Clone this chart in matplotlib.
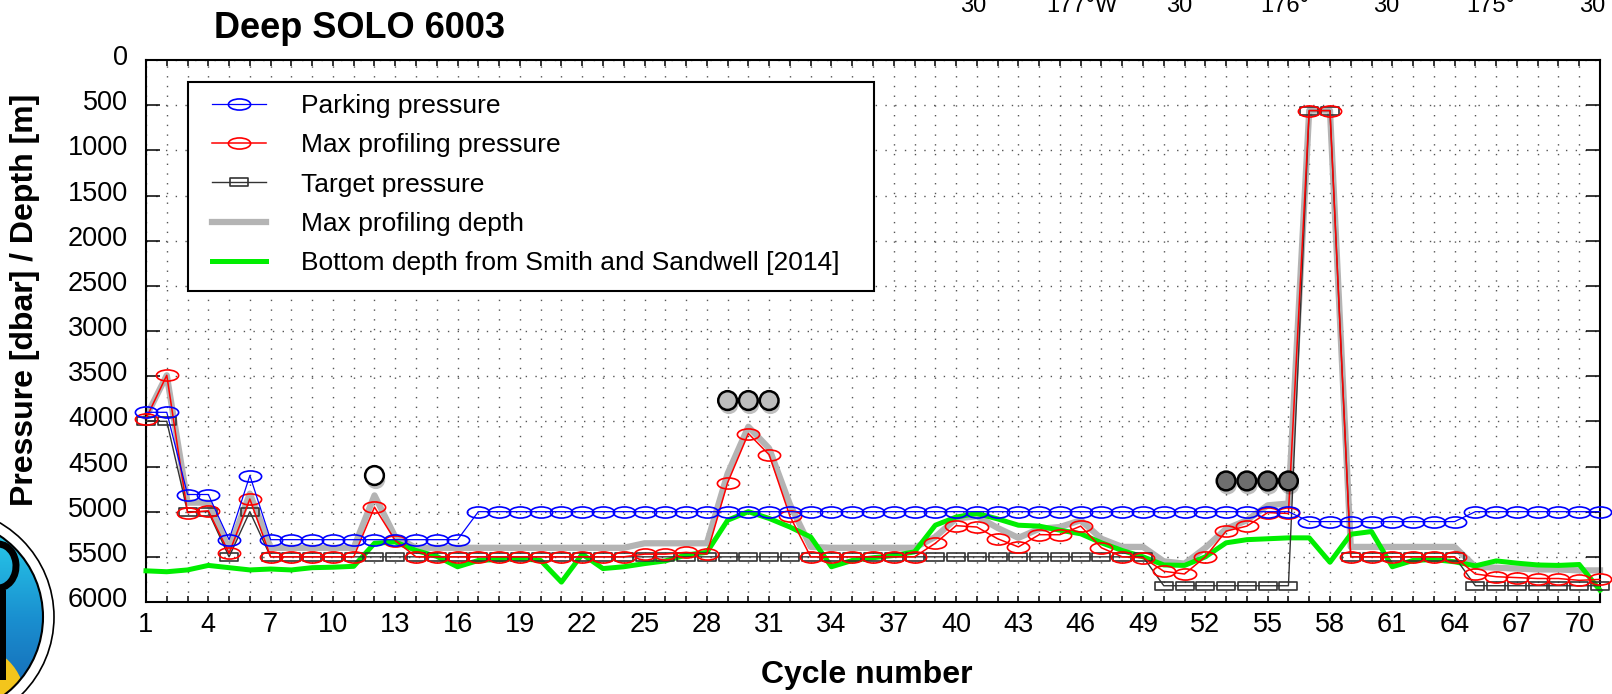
import numpy as np
import matplotlib.pyplot as plt
from matplotlib.path import Path
from matplotlib.patches import Rectangle, Circle, Arc
from matplotlib.transforms import ScaledTranslation
import matplotlib.patheffects as pe

plt.rcParams['font.family'] = ['Liberation Sans', 'DejaVu Sans']

##########
### Data
cycles = np.arange(1, 72)

parking = [3900, 3900, 4810, 4810, 5310, 4600, 5310, 5310, 5310, 5310,
           5310, 5310, 5310, 5310, 5310, 5310, 5000, 5000, 5000, 5000,
           5000, 5000, 5000, 5000, 5000, 5000, 5000, 5000, 5000, 5000,
           5000, 5000, 5000, 5000, 5000, 5000, 5000, 5000, 5000, 5000,
           5000, 5000, 5000, 5000, 5000, 5000, 5000, 5000, 5000, 5000,
           5000, 5000, 5000, 5000, 5000, 5000, 5110, 5110, 5110, 5110,
           5110, 5110, 5110, 5110, 5000, 5000, 5000, 5000, 5000, 5000,
           5000]

max_pressure = [3970, 3490, 5010, 4990, 5460, 4860, 5500, 5500, 5500, 5500,
                5500, 4950, 5320, 5500, 5500, 5500, 5500, 5500, 5500, 5500,
                5500, 5500, 5500, 5500, 5470, 5470, 5450, 5470, 4680, 4135,
                4370, 5050, 5500, 5500, 5500, 5500, 5500, 5500, 5350, 5155,
                5170, 5300, 5390, 5255, 5255, 5160, 5400, 5500, 5510, 5660,
                5690, 5500, 5215, 5160, 5010, 5020, 560, 560, 5500, 5500,
                5500, 5500, 5500, 5500, 5690, 5720, 5730, 5740, 5740, 5760,
                5750]

target = [4000, 4000, 5000, 5000, 5500, 5000, 5500, 5500, 5500, 5500,
          5500, 5500, 5500, 5500, 5500, 5500, 5500, 5500, 5500, 5500,
          5500, 5500, 5500, 5500, 5500, 5500, 5500, 5500, 5500, 5500,
          5500, 5500, 5500, 5500, 5500, 5500, 5500, 5500, 5500, 5500,
          5500, 5500, 5500, 5500, 5500, 5500, 5500, 5500, 5500, 5820,
          5820, 5820, 5820, 5820, 5820, 5820, 560, 560, 5500, 5500,
          5500, 5500, 5500, 5500, 5820, 5820, 5820, 5820, 5820, 5820,
          5820]

max_depth = [3950, 3490, 4900, 4900, 5420, 4800, 5400, 5400, 5400, 5400,
             5400, 4820, 5280, 5400, 5400, 5400, 5400, 5400, 5400, 5400,
             5400, 5400, 5400, 5400, 5350, 5350, 5350, 5350, 4580, 4060,
             4300, 4920, 5390, 5400, 5400, 5400, 5400, 5400, 5280, 5077,
             5050, 5180, 5290, 5190, 5170, 5095, 5300, 5390, 5390, 5550,
             5575, 5400, 5190, 5095, 4930, 4910, 560, 560, 5390, 5390,
             5390, 5390, 5390, 5390, 5610, 5620, 5630, 5640, 5640, 5650,
             5650]

bottom_depth = [5655, 5665, 5645, 5595, 5620, 5645, 5635, 5645, 5620, 5615,
                5605, 5350, 5335, 5430, 5495, 5610, 5540, 5530, 5520, 5540,
                5780, 5470, 5630, 5610, 5575, 5545, 5480, 5450, 5095, 5000,
                5075, 5170, 5280, 5610, 5540, 5510, 5485, 5445, 5150, 5060,
                5020, 5080, 5150, 5160, 5205, 5245, 5345, 5430, 5500, 5590,
                5595, 5500, 5345, 5310, 5300, 5290, 5290, 5560, 5250, 5220,
                5610, 5540, 5530, 5555, 5600, 5545, 5570, 5590, 5595, 5585,
                5870]

# status dots above the profiles
flag_white_x, flag_white_y = [12], [4600]
flag_light_x, flag_light_y = [29, 30, 31], [3770, 3770, 3770]
flag_dark_x, flag_dark_y = [53, 54, 55, 56], [4660, 4660, 4660, 4660]

xtick_labels = [1, 4, 7, 10, 13, 16, 19, 22, 25, 28, 31, 34, 37, 40, 43,
                46, 49, 52, 55, 58, 61, 64, 67, 70]
yticks = [0, 500, 1000, 1500, 2000, 2500, 3000, 3500, 4000, 4500, 5000,
          5500, 6000]
map_labels = ["30'", "177°W", "30'", "176°", "30'", "175°", "30'"]
map_label_px = [976, 1082, 1182, 1285, 1389, 1491, 1595]
##########

W, H = 1612, 694

# flattened marker shapes
uc = Path.unit_circle()
ellipse = Path(uc.vertices * [1, 0.5], uc.codes)
box = Path([(-1, -0.5), (1, -0.5), (1, 0.5), (-1, 0.5), (-1, -0.5)],
           [Path.MOVETO, Path.LINETO, Path.LINETO, Path.LINETO, Path.CLOSEPOLY])

fig = plt.figure(figsize=(W / 100, H / 100), dpi=100)
ax = fig.add_axes([146 / W, 92 / H, 1454 / W, 542 / H])

l_depth, = ax.plot(cycles, max_depth, color='#b4b4b4', lw=4.5, zorder=2,
                   clip_on=False, solid_joinstyle='round',
                   label='Max profiling depth')
l_bot, = ax.plot(cycles, bottom_depth, color='#00ee00', lw=3.6, zorder=3,
                 clip_on=False, solid_joinstyle='round',
                 label='Bottom depth from Smith and Sandwell [2014]')
l_tgt, = ax.plot(cycles, target, color='#333333', lw=1.0, marker=box, ms=12.5,
                 mfc='none', mec='#333333', mew=1.2, zorder=4, clip_on=False,
                 label='Target pressure')
l_max, = ax.plot(cycles, max_pressure, color='#ff0000', lw=1.1, marker=ellipse,
                 ms=16, mfc='none', mec='#ff0000', mew=1.2, zorder=5,
                 clip_on=False, label='Max profiling pressure')
l_park, = ax.plot(cycles, parking, color='#0000ff', lw=0.9, marker=ellipse,
                  ms=16, mfc='none', mec='#0000ff', mew=1.2, zorder=6,
                  clip_on=False, label='Parking pressure')

shadow = [pe.withSimplePatchShadow(offset=(1, -3), shadow_rgbFace='k', alpha=0.25)]
for fx, fy, fc in [(flag_white_x, flag_white_y, 'white'),
                   (flag_light_x, flag_light_y, '#bdbdbd'),
                   (flag_dark_x, flag_dark_y, '#6e6e6e')]:
    ax.plot(fx, fy, 'o', ms=13.5, mfc=fc, mec='black', mew=1.8, zorder=8,
            path_effects=shadow)

ax.set_xlim(1, 71)
ax.set_ylim(6000, 0)
ax.set_xticks(xtick_labels)
ax.set_xticks(cycles, minor=True)
ax.set_yticks(yticks)
ax.tick_params(axis='x', which='both', direction='in', top=True, bottom=True,
               length=4.5, width=1.1, labelsize=19.5, pad=7)
ax.tick_params(axis='y', which='both', direction='in', left=True, right=True,
               length=10, width=1.1, labelsize=19.5, pad=13)
for lab in ax.get_yticklabels():
    lab.set_transform(lab.get_transform() + ScaledTranslation(0, 3.5 / 72, fig.dpi_scale_trans))
ax.set_axisbelow(True)
ax.grid(which='both', axis='x', ls=(0, (1, 6)), lw=1.0, color='#555555')
ax.grid(which='major', axis='y', ls=(0, (1, 6)), lw=1.0, color='#555555')
for s in ax.spines.values():
    s.set_linewidth(1.5)

# legend with a drawn frame
ax.add_patch(Rectangle((42 / 1454, 311 / 542), 686 / 1454, 209 / 542,
                       transform=ax.transAxes, fc='white', ec='black', lw=1.5,
                       zorder=9))
leg = ax.legend(handles=[l_park, l_max, l_tgt, l_depth, l_bot], loc='upper left',
                bbox_to_anchor=(66 / 1454, 508 / 542), borderpad=0, borderaxespad=0,
                frameon=False, fontsize=19, handlelength=2.05, handletextpad=1.33,
                labelspacing=0.58)
leg.set_zorder(10)

fig.text(214 / W, 1 - 28 / H, 'Deep SOLO 6003', fontsize=26, weight='bold',
         ha='left', va='center')
fig.text(25 / W, 1 - 300 / H, 'Pressure [dbar] / Depth [m]', fontsize=23,
         weight='bold', rotation=90, ha='center', va='center')
fig.text(867 / W, 1 - 675 / H, 'Cycle number', fontsize=23, weight='bold',
         ha='center', va='center')

# map labels of the panel above, cut by the edge
for lab, px in zip(map_labels, map_label_px):
    fig.text(px / W, 1 - 12 / H, lab, fontsize=17, ha='center', va='baseline')

# logo peeking in at the bottom left
lax = fig.add_axes([0, 0, 1, 1], zorder=-1)
lax.set_xlim(0, W)
lax.set_ylim(H, 0)
lax.axis('off')
lax.add_patch(Circle((-55, 617), 109, fc='white', ec='black', lw=1.2))
inner = Circle((-55, 617), 98, fc='none', ec='black', lw=1.5, zorder=3)
lax.add_patch(inner)
grad = np.linspace(0, 1, 256).reshape(-1, 1)
img = lax.imshow(grad, cmap=plt.matplotlib.colors.LinearSegmentedColormap.from_list(
    'sea', ['#2ad4ee', '#1a90d0', '#1560b0']), extent=(-153, 43, 715, 519),
    aspect='auto', zorder=1)
img.set_clip_path(inner)
sun = Circle((-30, 700), 55, fc='#f3c51c', ec='none', zorder=2)
lax.add_patch(sun)
sun.set_clip_path(inner)
lax.add_patch(Arc((-2, 566), 36, 44, theta1=-90, theta2=120, lw=5, color='black', zorder=2))
body = Rectangle((-20, 590), 26, 90, fc='black', zorder=2)
lax.add_patch(body)
body.set_clip_path(inner)

fig.savefig('out.png', dpi=100)
